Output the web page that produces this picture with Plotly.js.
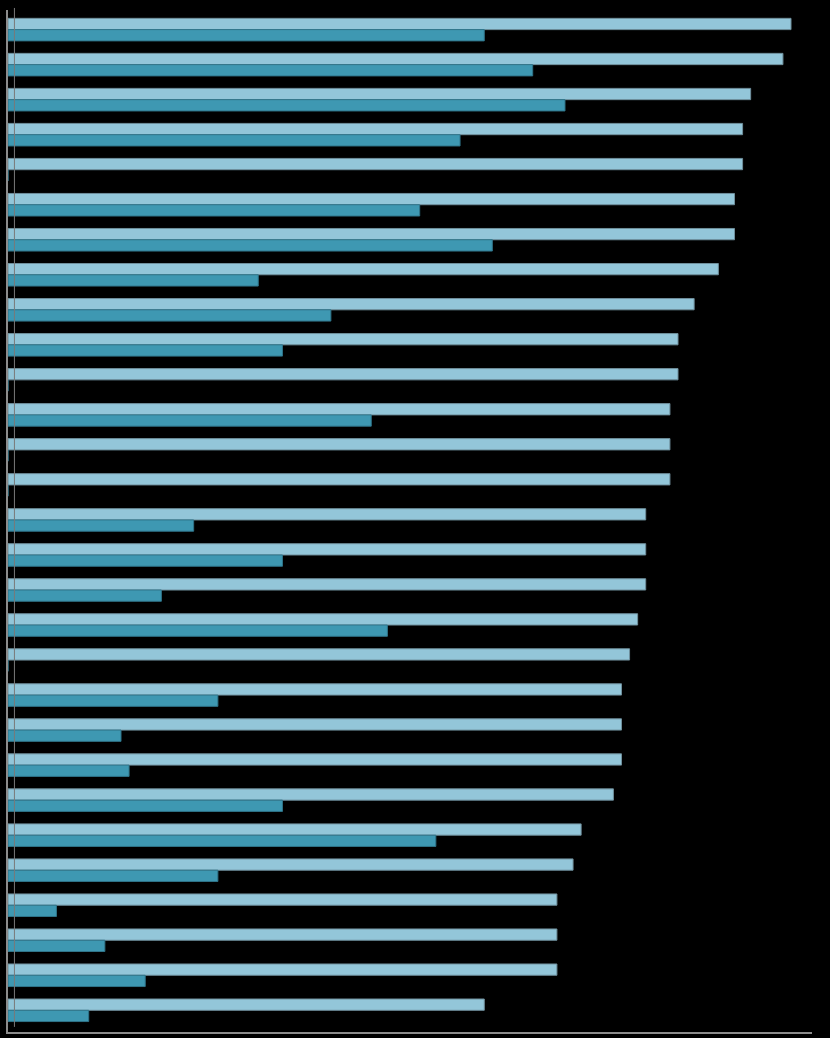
<!DOCTYPE html>
<html>
<head>
<meta charset="utf-8">
<script src="https://cdn.plot.ly/plotly-3.0.1.min.js"></script>
<style>
  html, body { margin: 0; padding: 0; background: #000; }
  #chart { width: 830px; height: 1038px; }
</style>
</head>
<body>
<div id="chart"></div>
<script>
// one row per category, top to bottom
var rows = ['1','2','3','4','5','6','7','8','9','10','11','12','13','14','15',
            '16','17','18','19','20','21','22','23','24','25','26','27','28','29'];

var seriesA = [97, 96, 92, 91, 91, 90, 90, 88, 85, 83, 83, 82, 82, 82, 79,
               79, 79, 78, 77, 76, 76, 76, 75, 71, 70, 68, 68, 68, 59];

var seriesB = [59, 65, 69, 56, 0, 51, 60, 31, 40, 34, 0, 45, 0, 0, 23,
               34, 19, 47, 0, 26, 14, 15, 34, 53, 26, 6, 12, 17, 10];

var traceA = {
  y: rows,
  x: seriesA,
  type: 'bar',
  orientation: 'h',
  name: 'A',
  marker: { color: '#93c6d9', line: { color: '#6f8f9c', width: 1 } },
  hoverinfo: 'x'
};
var traceB = {
  y: rows,
  x: seriesB,
  type: 'bar',
  orientation: 'h',
  name: 'B',
  marker: { color: '#3e98b2', line: { color: '#2f7489', width: 1 } },
  hoverinfo: 'x'
};

var layout = {
  width: 830,
  height: 1038,
  paper_bgcolor: '#000',
  plot_bgcolor: '#000',
  showlegend: false,
  barmode: 'group',
  bargap: 0.356,
  bargroupgap: 0,
  margin: { l: 8, r: 18, t: 10, b: 6 },
  xaxis: {
    range: [0, 99.6],
    showgrid: false,
    zeroline: false,
    showticklabels: false,
    ticks: '',
    showline: true,
    linecolor: '#8c8c8c',
    linewidth: 2
  },
  yaxis: {
    type: 'category',
    range: [28.62, -0.56],
    showgrid: false,
    zeroline: false,
    showticklabels: false,
    ticks: '',
    showline: true,
    linecolor: '#8c8c8c',
    linewidth: 2
  },
  shapes: [{
    // back wall edge of the 3D frame
    type: 'line', xref: 'paper', yref: 'paper',
    x0: 0.008, x1: 0.008, y0: 0.005, y1: 1.002,
    line: { color: '#7a7a7a', width: 1 }
  }]
};

Plotly.newPlot('chart', [traceA, traceB], layout, { displayModeBar: false, staticPlot: true });
</script>
</body>
</html>
